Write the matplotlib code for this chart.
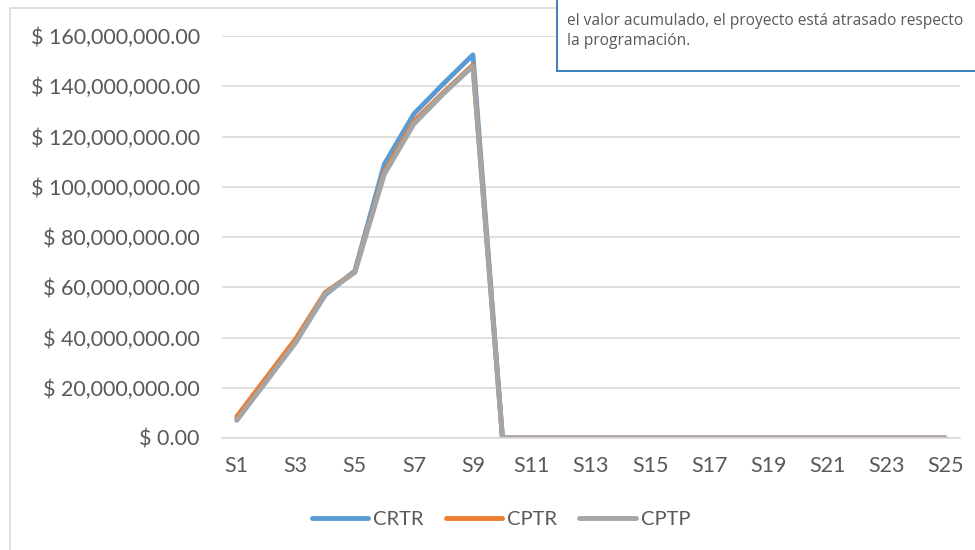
import matplotlib.pyplot as plt
from matplotlib.patches import Rectangle
from matplotlib.ticker import FuncFormatter, MultipleLocator

# semanas S1..S25
semanas = [f"S{i}" for i in range(1, 26)]

# valores en millones de pesos
crtr = [7.5, 23, 38.5, 57, 66.5, 109, 129, 141, 152.5] + [0] * 16
cptr = [8.5, 24, 39.5, 58, 66, 106, 126, 137.5, 148.5] + [0] * 16
cptp = [7, 22.5, 38, 57.5, 66, 105, 125, 137, 148] + [0] * 16

series = [("CRTR", crtr, "#5B9BD5"), ("CPTR", cptr, "#ED7D31"), ("CPTP", cptp, "#A5A5A5")]

plt.rcParams["font.family"] = ["Lato", "DejaVu Sans"]
txt = "#595959"

fig = plt.figure(figsize=(9.75, 5.5), dpi=100)
W, H = 975, 550

# marco del area del grafico
fig.patches.append(Rectangle((10 / W, -0.1), 1.0, 1 - 8 / H + 0.1, transform=fig.transFigure,
                             fill=False, edgecolor="#D9D9D9", linewidth=1.2))

ax = fig.add_axes([222 / W, 1 - 438 / H, (960 - 222) / W, (438 - 36) / H])
x = list(range(len(semanas)))
for name, vals, col in series:
    ax.plot(x, [v * 1e6 for v in vals], color=col, linewidth=3.5, label=name,
            solid_joinstyle="round", solid_capstyle="round")

ax.set_xlim(-0.5, len(semanas) - 0.5)
ax.set_ylim(0, 160e6)
ax.yaxis.set_major_locator(MultipleLocator(20e6))
ax.yaxis.set_major_formatter(FuncFormatter(lambda v, p: f"$ {v:,.2f}"))
ax.set_xticks(x[::2])
ax.set_xticklabels(semanas[::2])
ax.grid(axis="y", color="#D9D9D9", linewidth=1.2)
ax.set_axisbelow(True)
for s in ["top", "right", "left"]:
    ax.spines[s].set_visible(False)
ax.spines["bottom"].set_color("#D9D9D9")
ax.spines["bottom"].set_linewidth(1.2)
ax.tick_params(axis="both", length=0, colors=txt, labelsize=15.5)
ax.tick_params(axis="y", pad=16)
ax.tick_params(axis="x", pad=13)

fig.legend(loc="center", bbox_to_anchor=(501 / W, 1 - 519 / H), ncol=3, frameon=False,
           fontsize=14.5, handlelength=2.8, handletextpad=0.25, columnspacing=1.1,
           labelcolor=txt)

# cuadro de texto superior derecho (recortado)
fig.patches.append(Rectangle((557 / W, 1 - 71 / H), 0.6, 0.3, transform=fig.transFigure,
                             facecolor="white", edgecolor="#2E75B6", linewidth=1.3, zorder=5))
fig.text(567 / W, 1 - 21 / H, "el valor acumulado, el proyecto está atrasado respecto",
         fontsize=11.2, color=txt, va="center", zorder=6, family=["Open Sans", "DejaVu Sans"])
fig.text(567 / W, 1 - 41 / H, "la programación.",
         fontsize=11.2, color=txt, va="center", zorder=6, family=["Open Sans", "DejaVu Sans"])

fig.savefig("out.png", dpi=100)
